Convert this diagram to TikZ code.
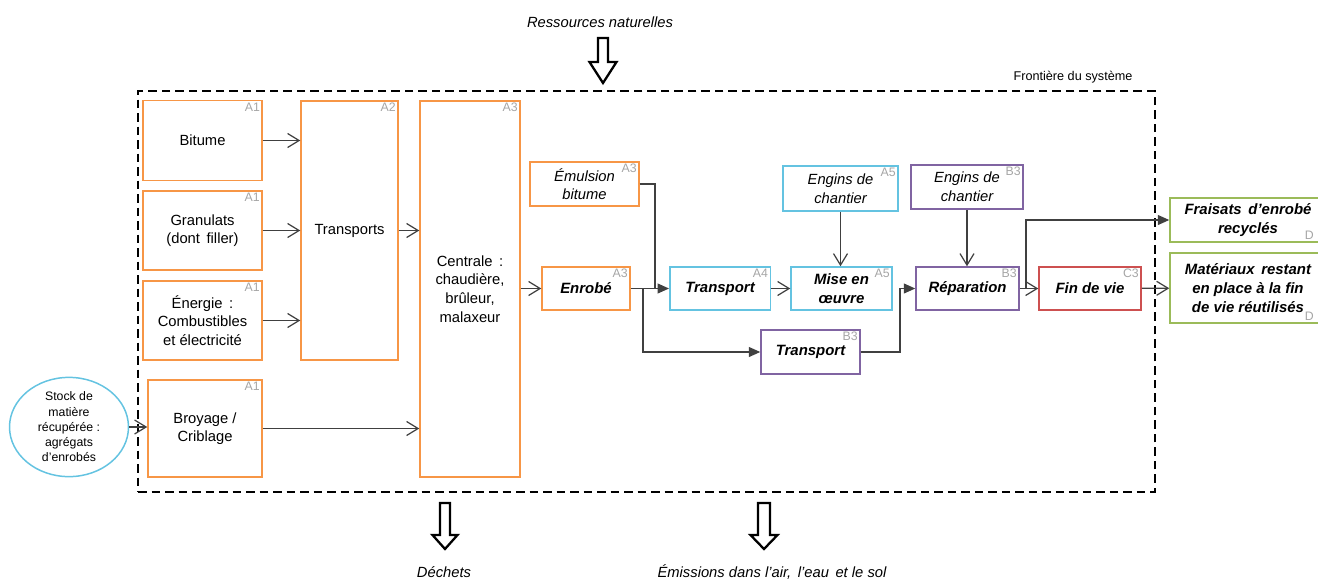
\documentclass[tikz,border=0pt]{standalone}
\usepackage{fontspec}
\setmainfont{Liberation Sans}
\usetikzlibrary{arrows.meta,positioning,shapes.geometric}
\definecolor{boxorange}{RGB}{247,150,70}
\definecolor{boxblue}{RGB}{100,195,225}
\definecolor{boxpurple}{RGB}{128,100,162}
\definecolor{boxred}{RGB}{205,80,80}
\definecolor{boxgreen}{RGB}{155,187,89}
\definecolor{linegray}{RGB}{64,64,64}
\definecolor{taggray}{RGB}{165,165,165}
\tikzset{
mybox/.style={
  rectangle,
  line width=0.85pt,
  inner sep=1pt,
  align=center,
  font=\fontsize{8.4}{10.6}\selectfont,
  }
}
\tikzset{
italictext/.style={font=\fontsize{8.4}{10.6}\selectfont\itshape},
bolditalic/.style={font=\fontsize{8.5}{10.6}\selectfont\bfseries\itshape},
orangebox/.style={mybox, draw=boxorange},
bluebox/.style={mybox, draw=boxblue},
purplebox/.style={mybox, draw=boxpurple},
redbox/.style={mybox, draw=boxred},
greenbox/.style={mybox, draw=boxgreen},
tag/.style={font=\fontsize{7}{8}\selectfont, text=taggray, inner sep=1.5pt},
}
\tikzset{
myline/.style={
  line width=0.7pt,
  draw=linegray,
  -{Straight Barb[length=2.3mm,width=2.8mm]}
  }
}
\tikzset{
myfill/.style={
  line width=0.7pt,
  draw=linegray,
  -{Triangle[length=2.3mm,width=2mm]}
  }
}
\tikzset{
hollow/.style={
  line width=1.3pt,
  draw=black,
  fill=white,
  line join=miter,
  }
}

\begin{document}
\begin{tikzpicture}[x=0.02cm,y=-0.02cm]
    \useasboundingbox (0,0) rectangle (1318,579);
    % system boundary
    \node[draw, line width=1.1pt, dash pattern=on 0.17cm off 0.1cm, minimum width=20.34cm, minimum height=8.02cm] (front) at (646.5,291.5) {};
    \node[font=\fontsize{7.2}{8}\selectfont] (fronttxt) at (1073,77) {Frontière du système};
    % production
    \node[orangebox, minimum width=2.39cm, minimum height=1.6cm, label={[tag,anchor=north east]north east:A1}] (bit) at (202.5,140.5) {Bitume};
    \node[orangebox, minimum width=2.38cm, minimum height=1.58cm, label={[tag,anchor=north east]north east:A1}] (gran) at (202.5,230.5) {Granulats\\(dont\, filler)};
    \node[orangebox, minimum width=2.38cm, minimum height=1.58cm, label={[tag,anchor=north east]north east:A1}] (ener) at (202.5,320.5) {Énergie\, :\\Combustibles\\et électricité};
    \node[orangebox, minimum width=2.28cm, minimum height=1.94cm, label={[tag,anchor=north east]north east:A1}] (broy) at (205,428.5) {Broyage /\\Criblage};
    \node[ellipse, draw=boxblue, line width=0.85pt, inner sep=0pt, align=center, font=\fontsize{7}{8.7}\selectfont, minimum width=2.38cm, minimum height=1.92cm] (stock) at (69,427) {Stock de\\matière\\récupérée :\\agrégats\\d'enrobés};
    \node[orangebox, minimum width=1.94cm, minimum height=5.18cm, label={[tag,anchor=north east]north east:A2}] (transp) at (349.5,230.5) {Transports};
    \node[orangebox, minimum width=2.0cm, minimum height=7.52cm, label={[tag,anchor=north east]north east:A3}] (centr) at (470,289) {Centrale\, :\\chaudière,\\brûleur,\\malaxeur};
    \node[orangebox, italictext, minimum width=2.18cm, minimum height=0.88cm, label={[tag,anchor=north east]north east:A3}] (emul) at (584.5,184) {Émulsion\\bitume};
    \node[orangebox, bolditalic, minimum width=1.76cm, minimum height=0.86cm, label={[tag,anchor=north east]north east:A3}] (enrob) at (586,288.5) {Enrobé};
    % construction
    \node[bluebox, bolditalic, minimum width=2.01cm, minimum height=0.86cm, label={[tag,anchor=north east]north east:A4}] (trA4) at (720,288.5) {Transport};
    \node[bluebox, bolditalic, minimum width=2.02cm, minimum height=0.86cm, label={[tag,anchor=north east]north east:A5}] (mise) at (841.5,288.5) {Mise en\\œuvre};
    \node[bluebox, italictext, minimum width=2.3cm, minimum height=0.9cm, label={[tag,anchor=north east]north east:A5}] (enginsA) at (840.5,188.5) {Engins de\\chantier};
    % use and end of life
    \node[purplebox, italictext, minimum width=2.24cm, minimum height=0.88cm, label={[tag,anchor=north east]north east:B3}] (enginsB) at (967,187) {Engins de\\chantier};
    \node[purplebox, bolditalic, minimum width=2.06cm, minimum height=0.86cm, label={[tag,anchor=north east]north east:B3}] (repar) at (967.5,288.5) {Réparation};
    \node[purplebox, bolditalic, minimum width=1.98cm, minimum height=0.88cm, label={[tag,anchor=north east]north east:B3}] (trB3) at (810.5,352) {Transport};
    \node[redbox, bolditalic, minimum width=2.04cm, minimum height=0.86cm, label={[tag,anchor=north east]north east:C3}] (fin) at (1090,288.5) {Fin de vie};
    \node[greenbox, bolditalic, minimum width=3.12cm, minimum height=0.88cm, label={[tag,anchor=south east,xshift=-0.2cm]south east:D}] (frais) at (1248,220) {Fraisats\, d’enrobé\\recyclés};
    \node[greenbox, bolditalic, minimum width=3.12cm, minimum height=1.4cm, label={[tag,anchor=south east,xshift=-0.2cm]south east:D}] (mater) at (1248,288) {Matériaux\, restant\\en place à la fin\\de vie réutilisés};
    % flows in and out
    \node[italictext] (res) at (600,22) {Ressources naturelles};
    \node[italictext] (dech) at (444,572) {Déchets};
    \node[italictext] (emis) at (772,572) {Émissions dans l'air,\, l'eau\, et le sol};
    \coordinate (resin) at (603,38);
    \coordinate (dechout) at (445,503);
    \coordinate (emisout) at (764,503);
    \draw[hollow] (resin) ++(-5,0) -- ++(0,24) -- ++(-8.5,0) -- ++(13.5,21) -- ++(13.5,-21) -- ++(-8.5,0) -- ++(0,-24) -- cycle;
    \draw[hollow] (dechout) ++(-5,0) -- ++(0,32) -- ++(-7.5,0) -- ++(12.5,14) -- ++(12.5,-14) -- ++(-7.5,0) -- ++(0,-32) -- cycle;
    \draw[hollow] (emisout) ++(-6,0) -- ++(0,32) -- ++(-7.5,0) -- ++(13.5,14) -- ++(13.5,-14) -- ++(-7.5,0) -- ++(0,-32) -- cycle;
    % connectors
    \coordinate (emjoin) at (655,288.5);
    \coordinate (ensplit) at (643,288.5);
    \coordinate (trbend) at (900,352);
    \coordinate (repsplit) at (1026,288.5);
    \draw[myline] (bit.east) -- (bit.east -| transp.west);
    \draw[myline] (gran.east) -- (gran.east -| transp.west);
    \draw[myline] (ener.east) -- (ener.east -| transp.west);
    \draw[myline] (transp.east) -- (transp.east -| centr.west);
    \draw[myline] (stock.east) -- (stock.east -| broy.west);
    \draw[myline] (broy.east) -- (broy.east -| centr.west);
    \draw[myline] (centr.east |- enrob.west) -- (enrob.west);
    \draw[line width=0.7pt, draw=linegray] (emul.east) -| (emjoin);
    \draw[myfill] (enrob.east) -- (trA4.west);
    \draw[myfill] (ensplit) |- (trB3.west);
    \draw[myfill] (trB3.east) -- (trbend) |- (repar.west);
    \draw[myline] (trA4) -- (mise);
    \draw[myline] (enginsA.south) -- (enginsA.south |- mise.north);
    \draw[myline] (enginsB.south) -- (enginsB.south |- repar.north);
    \draw[myline] (repar) -- (fin);
    \draw[myfill] (repsplit) |- (frais.west);
    \draw[myline] (fin) -- (mater);
\end{tikzpicture}
\end{document}
